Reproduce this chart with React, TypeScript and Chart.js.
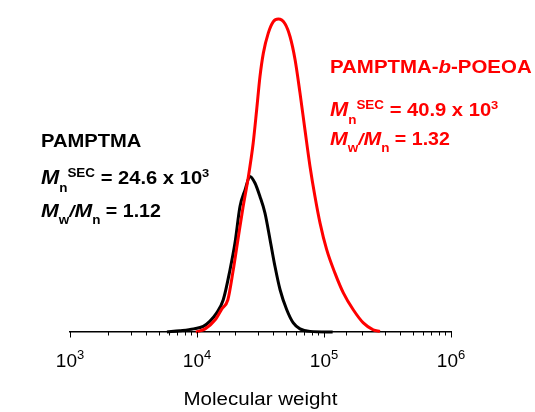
import { useEffect, useRef } from 'react';
import { Chart, registerables } from 'chart.js';

Chart.register(...registerables);

// ---------- data ----------
const BLACK_MW = [5800, 7300, 9400, 11200, 12600, 14300, 16100, 18200, 19900, 21800, 23900, 26100, 28600, 31300, 34300, 37600, 41100, 45100, 50800, 57300, 64700, 77600, 117000];
const BLACK_SIGNAL = [0, 0.4, 1.0, 1.8, 3.4, 6.1, 10.3, 19.9, 28.4, 40.1, 45.4, 49.7, 47.6, 43.3, 38.0, 29.5, 21.0, 13.5, 7.2, 2.9, 1.0, 0.2, 0];

const RED_MW = [9800, 11600, 13900, 15700, 17500, 19200, 21000, 23000, 25400, 27700, 29500, 31300, 33300, 36400, 39900, 43700, 49300, 54000, 59200, 64700, 70800, 77600, 84900, 93100, 105000, 122000, 142000, 170000, 204000, 244000, 276000];
const RED_SIGNAL = [0, 1.0, 3.9, 7.4, 10.3, 19.3, 29.5, 39.7, 49.7, 60.4, 71.0, 81.5, 89.1, 95.5, 99.2, 100, 98.5, 94.4, 87.0, 76.4, 64.6, 52.9, 43.3, 34.8, 26.3, 18.8, 12.5, 7.1, 2.9, 0.7, 0.2];

const X_MIN = 1e3;
const X_MAX = 1e6;
const TICK_VALUES = [1e3, 1e4, 1e5, 1e6];
const TICK_BASE = '10';
const TICK_EXPONENTS = ['3', '4', '5', '6'];
const X_TITLE = 'Molecular weight';

const BLACK_NAME = 'PAMPTMA';
const BLACK_MN = '24.6';
const BLACK_DISPERSITY = '1.12';
const RED_NAME_A = 'PAMPTMA-';
const RED_NAME_B = 'b';
const RED_NAME_C = '-POEOA';
const RED_MN = '40.9';
const RED_DISPERSITY = '1.32';

const RED = '#ff0000';
const BLACK = '#000000';
const FONT = "'Liberation Sans', Arial, Helvetica, sans-serif";

type Seg = { t: string; size: number; bold?: boolean; italic?: boolean; dy?: number };

function drawRich(ctx: CanvasRenderingContext2D, segs: Seg[], x: number, y: number, color: string, sx: number, align: 'left' | 'center' = 'left') {
  ctx.save();
  ctx.fillStyle = color;
  ctx.textBaseline = 'alphabetic';
  ctx.textAlign = 'left';
  let total = 0;
  for (const s of segs) {
    ctx.font = `${s.italic ? 'italic ' : ''}${s.bold ? 'bold ' : ''}${s.size}px ${FONT}`;
    total += ctx.measureText(s.t).width;
  }
  ctx.translate(align === 'center' ? x - (total * sx) / 2 : x, y);
  ctx.scale(sx, 1);
  let cx = 0;
  for (const s of segs) {
    ctx.font = `${s.italic ? 'italic ' : ''}${s.bold ? 'bold ' : ''}${s.size}px ${FONT}`;
    ctx.fillText(s.t, cx, s.dy || 0);
    cx += ctx.measureText(s.t).width;
  }
  ctx.restore();
}

function mnLine(value: string): Seg[] {
  return [
    { t: 'M', size: 19.5, bold: true, italic: true },
    { t: 'n', size: 12, bold: true, dy: 8 },
    { t: 'SEC', size: 12, bold: true, dy: -7 },
    { t: ' = ' + value + ' x 10', size: 18, bold: true },
    { t: '3', size: 11.5, bold: true, dy: -7 },
  ];
}

function dispLine(value: string): Seg[] {
  return [
    { t: 'M', size: 19, bold: true, italic: true },
    { t: 'w', size: 12, bold: true, dy: 7 },
    { t: '/', size: 17, bold: true, italic: true },
    { t: 'M', size: 19, bold: true, italic: true },
    { t: 'n', size: 12, bold: true, dy: 7 },
    { t: ' = ' + value, size: 17.5, bold: true },
  ];
}

const decorPlugin = {
  id: 'decor',
  afterDraw(chart: any) {
    const ctx: CanvasRenderingContext2D = chart.ctx;
    const xs = chart.scales.x;
    const base = chart.chartArea.bottom;

    // tick marks
    ctx.save();
    ctx.strokeStyle = '#000';
    ctx.lineWidth = 1;
    for (const t of xs.ticks) {
      const v = t.value;
      if (v < X_MIN - 1e-6 || v > X_MAX + 1e-6) continue;
      const lg = Math.log10(v);
      const major = Math.abs(lg - Math.round(lg)) < 1e-9;
      const px = Math.round(xs.getPixelForValue(v)) + 0.5;
      ctx.beginPath();
      ctx.moveTo(px, base);
      ctx.lineTo(px, base + (major ? 5.5 : 3.5));
      ctx.stroke();
    }
    ctx.restore();

    // tick labels
    TICK_VALUES.forEach((v, i) => {
      const px = xs.getPixelForValue(v);
      drawRich(ctx, [
        { t: TICK_BASE, size: 19 },
        { t: TICK_EXPONENTS[i], size: 13, dy: -8 },
      ], px, base + 35, BLACK, 1, 'center');
    });

    // axis title
    drawRich(ctx, [{ t: X_TITLE, size: 18 }], (xs.left + xs.right) / 2, base + 73, BLACK, 1.14, 'center');

    // annotations
    const sx = 1.12;
    drawRich(ctx, [{ t: BLACK_NAME, size: 18, bold: true }], 41, 147, BLACK, sx);
    drawRich(ctx, mnLine(BLACK_MN), 41, 184, BLACK, sx);
    drawRich(ctx, dispLine(BLACK_DISPERSITY), 41, 217, BLACK, sx);

    drawRich(ctx, [
      { t: RED_NAME_A, size: 18, bold: true },
      { t: RED_NAME_B, size: 18, bold: true, italic: true },
      { t: RED_NAME_C, size: 18, bold: true },
    ], 330, 73, RED, 1.135);
    drawRich(ctx, mnLine(RED_MN), 330, 116, RED, sx);
    drawRich(ctx, dispLine(RED_DISPERSITY), 330, 145, RED, sx);
  },
};

export default function App() {
  const ref = useRef<HTMLCanvasElement | null>(null);
  useEffect(() => {
    if (!ref.current) return;
    const chart = new Chart(ref.current, {
      type: 'line',
      data: {
        datasets: [
          {
            label: 'PAMPTMA-b-POEOA',
            data: RED_MW.map((m, i) => ({ x: m, y: RED_SIGNAL[i] })),
            borderColor: RED,
            borderWidth: 3,
            pointRadius: 0,
            cubicInterpolationMode: 'monotone',
            fill: false,
            clip: false as any,
          },
          {
            label: 'PAMPTMA',
            data: BLACK_MW.map((m, i) => ({ x: m, y: BLACK_SIGNAL[i] })),
            borderColor: BLACK,
            borderWidth: 3,
            pointRadius: 0,
            cubicInterpolationMode: 'monotone',
            fill: false,
            clip: false as any,
          },
        ],
      },
      options: {
        animation: false,
        responsive: true,
        maintainAspectRatio: false,
        layout: { padding: { left: 70, right: 84, top: 19, bottom: 80 } },
        plugins: { legend: { display: false }, tooltip: { enabled: false } },
        scales: {
          x: {
            type: 'logarithmic',
            min: X_MIN,
            max: X_MAX,
            grid: { display: false, drawTicks: false, tickLength: 0 },
            border: { display: true, color: '#000', width: 1.5 },
            ticks: { display: false },
            title: { display: false },
          },
          y: {
            display: false,
            min: 0,
            max: 100,
          },
        },
      },
      plugins: [decorPlugin],
    });
    return () => chart.destroy();
  }, []);
  return (
    <div style={{ position: 'absolute', left: 0, top: 0, width: 535, height: 412, background: '#fff' }}>
      <canvas ref={ref} />
    </div>
  );
}
